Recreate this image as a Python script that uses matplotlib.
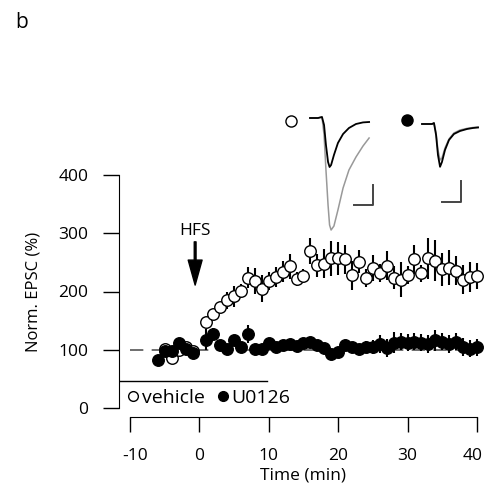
import numpy as np
import matplotlib.pyplot as plt
from matplotlib.lines import Line2D
from matplotlib.transforms import ScaledTranslation

plt.rcParams['font.family'] = ['Open Sans', 'DejaVu Sans']

# time points (min)
t_veh = [-5, -4, -3, -2, -1] + list(range(1, 41))
veh = [101, 85, 100, 104, 98,
       148, 161, 174, 185, 192, 201, 224, 218, 205, 218,
       225, 234, 243, 221, 227, 270, 245, 248, 257, 257,
       255, 228, 251, 223, 240, 232, 244, 224, 220, 228,
       255, 231, 257, 253, 238, 241, 236, 220, 225, 227]
veh_sem = [8, 8, 8, 8, 8,
           8, 8, 8, 15, 18, 12, 18, 22, 23, 15,
           17, 18, 22, 12, 12, 22, 20, 25, 30, 28,
           25, 25, 20, 15, 22, 15, 25, 20, 30, 15,
           25, 15, 35, 35, 28, 30, 25, 25, 25, 22]

t_u0 = [-6, -5, -4, -3, -2, -1] + list(range(1, 41))
u0 = [82, 97, 98, 112, 102, 94,
      117, 127, 108, 102, 117, 105, 127, 102, 102, 112,
      105, 108, 110, 106, 112, 114, 108, 103, 92, 96,
      108, 104, 102, 105, 104, 110, 103, 112, 114, 112,
      114, 112, 110, 116, 114, 110, 114, 105, 102, 104]
u0_sem = [6, 6, 6, 6, 6, 6,
          18, 10, 8, 8, 8, 8, 15, 8, 8, 8,
          8, 8, 8, 8, 8, 8, 8, 8, 8, 8,
          8, 8, 8, 10, 12, 15, 15, 18, 15, 15,
          15, 15, 15, 18, 15, 15, 15, 15, 15, 15]

# inset traces: time (ms), current (pA)
tr_veh_t = [0, 4.2, 6.3, 7.4, 8.4, 9.5, 10.3, 11.1, 12.6, 14.7, 17.4, 20.5, 24.2, 27.9, 31.1]
tr_veh_pre = [0, 0, 2.5, -17.5, -67.5, -110, -122.5, -117.5, -92.5, -62.5, -40, -25, -15, -11, -10]
tr_veh_post = [0, 0, 2.5, -42.5, -130, -217.5, -267.5, -280, -270, -230, -175, -130, -97.5, -70, -50]

tr_u0_t = [0, 5.3, 6.3, 7.4, 8.4, 9.5, 10.5, 12.1, 14.2, 16.8, 20, 23.7, 26.8, 29.5]
tr_u0_pre = [0, 0, 2.5, -27.5, -77.5, -107, -95, -65, -40, -25, -17.5, -12.5, -10, -8.75]
tr_u0_post = [0, 0, 2.5, -22.5, -65, -90, -85, -60, -37.5, -22.5, -15, -11, -8.75, -7.5]

fig = plt.figure(figsize=(4.85, 5.01), dpi=100)
ax = fig.add_axes([119/485, 1-408/501, 364.8/485, 233/501])

ax.plot([-10, 40], [100, 100], color='#555555', lw=1.2, dashes=(8, 5), zorder=1)

ax.errorbar(t_veh, veh, yerr=veh_sem, fmt='o', ms=8.3, mfc='white', mec='black', mew=1,
            ecolor='black', elinewidth=1.5, capsize=0, zorder=3)
ax.errorbar(t_u0, u0, yerr=u0_sem, fmt='o', ms=8.3, mfc='black', mec='black',
            ecolor='black', elinewidth=1.5, capsize=0, zorder=4)

ax.annotate('HFS', xy=(-0.62, 211), xytext=(-0.62, 290), ha='center', va='bottom',
            fontsize=12.5,
            arrowprops=dict(facecolor='black', edgecolor='black', width=1.3,
                            headwidth=10, headlength=18, shrink=0))

ax.axhline(46, xmin=0, xmax=(9.7+11.6)/52.6, color='black', lw=1)

ax.set_xlim(-11.6, 41)
ax.set_ylim(0, 400)
ax.set_xticks([-10, 0, 10, 20, 30, 40])
ax.set_xticklabels(['-10', '0', '10', '20', '30', '40'])
ax.set_yticks([0, 100, 200, 300, 400])
ax.spines['top'].set_visible(False)
ax.spines['right'].set_visible(False)
ax.spines['left'].set_bounds(0, 400)
ax.spines['bottom'].set_bounds(-10, 40)
ax.spines['bottom'].set_position(('outward', 6.5))
ax.tick_params(axis='x', length=11, width=1, pad=11.5, labelsize=12.5)
ax.tick_params(axis='y', length=11.5, width=1, pad=10.5, labelsize=12.5)
ax.set_xlabel('Time (min)', fontsize=12.5)
ax.set_ylabel('Norm. EPSC (%)', fontsize=12)
ax.xaxis.set_label_coords((303.5-119)/364.8, (408-468)/233)
ax.yaxis.set_label_coords((42-119)/364.8, 0.5)

# nudge the end labels like in the original
xt = ax.get_xticklabels()
xt[0].set_transform(xt[0].get_transform() + ScaledTranslation(5/100, 0, fig.dpi_scale_trans))
xt[-1].set_transform(xt[-1].get_transform() + ScaledTranslation(-4/100, 0, fig.dpi_scale_trans))

handles = [Line2D([], [], ls='', marker='o', ms=7, mfc='white', mec='black', mew=1),
           Line2D([], [], ls='', marker='o', ms=7, mfc='black', mec='black')]
ax.legend(handles, ['vehicle', 'U0126'], ncol=2, frameon=False, loc='center left',
          bbox_to_anchor=(0.0, 0.043), borderpad=0, borderaxespad=0.36,
          handlelength=0.7, handletextpad=0.11, columnspacing=0.58, fontsize=14)

# insets
ins1 = fig.add_axes([300/485, 1-235/501, 80/485, 130/501])
ins1.set_xlim(-10/1.9, 70/1.9)
ins1.set_ylim(-117/0.4, 13/0.4)
ins1.axis('off')
ins1.plot(tr_veh_t, tr_veh_post, color='#999999', lw=1.1)
ins1.plot(tr_veh_t, tr_veh_pre, color='black', lw=1.3)
ins1.plot([23.2, 33, 33], [-217.5, -217.5, -167.5], color='#444444', lw=1.4)
ins1.plot([-10], [-7.5], 'o', ms=8, mfc='white', mec='black', mew=1, clip_on=False)

ins2 = fig.add_axes([400/485, 1-235/501, 85/485, 130/501])
ins2.set_xlim(-22/1.9, 63/1.9)
ins2.set_ylim(-111/0.4, 19/0.4)
ins2.axis('off')
ins2.plot(tr_u0_t, tr_u0_post, color='#999999', lw=1.1)
ins2.plot(tr_u0_t, tr_u0_pre, color='black', lw=1.3)
ins2.plot([10.4, 20.5, 20.5], [-194, -194, -142.5], color='#444444', lw=1.4)
ins2.plot([-8.1], [10], 'o', ms=8, mfc='black', mec='black', clip_on=False)

fig.text(15/485, 1-22/501, 'b', fontsize=15, ha='left', va='center')

fig.savefig('out.png', dpi=100)
